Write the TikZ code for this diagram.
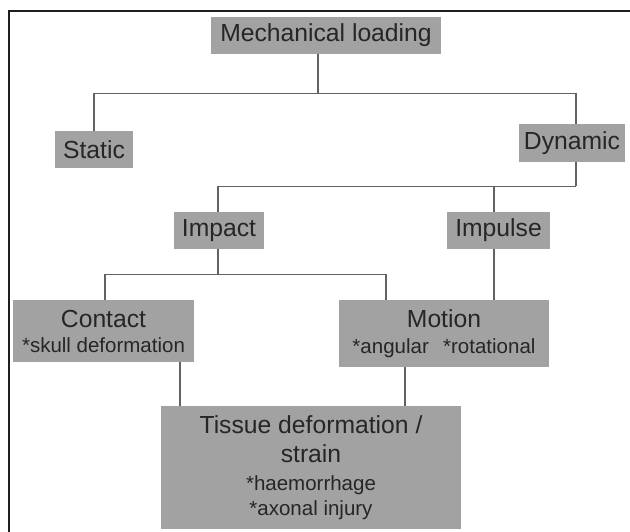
\documentclass[tikz,border=0pt]{standalone}
\usepackage{fontspec}
\setmainfont{Liberation Sans}
\usetikzlibrary{positioning, calc}
\definecolor{boxgrey}{HTML}{A2A2A2}
\definecolor{inkgrey}{HTML}{262626}
\definecolor{linkgrey}{HTML}{626262}
\definecolor{framegrey}{HTML}{1E1E1E}
\newcommand{\maintxt}{\fontsize{24.7}{27}\selectfont}
\newcommand{\subtxt}{\fontsize{20.5}{25}\selectfont}
\tikzset{
  box/.style={rectangle, fill=boxgrey, text=inkgrey, inner sep=0pt,
              align=center, font=\maintxt},
  link/.style={draw=linkgrey, line width=1.1pt},
  frameline/.style={draw=framegrey, line width=1.6pt},
}
\begin{document}
\begin{tikzpicture}[x=1pt, y=1pt]
    \useasboundingbox (0,0) rectangle (630,532);
    \draw[frameline] (9,0) |- (630,521);
    % level 1 and 2
    \node[box, minimum width=230pt, minimum height=37pt] (mech) at (326,496.5) {Mechanical loading};
    \node[box, minimum width=78pt, minimum height=37pt] (static) at (94,382.5) {Static};
    \node[box, minimum width=106pt, minimum height=38pt] (dyn) at (572,389) {Dynamic};
    % level 3
    \node[box, minimum width=90pt, minimum height=37pt] (impact) at (219,301.5) {Impact};
    \node[box, minimum width=103pt, minimum height=37pt] (impulse) at (498.5,301.5) {Impulse};
    % level 4
    \node[box, minimum width=181pt, minimum height=62pt] (contact) at (103.5,201)
        {Contact\\[-2pt] {\subtxt *skull deformation}};
    \node[box, minimum width=210pt, minimum height=67pt] (motion) at (444,198.5)
        {Motion\\[-1pt] {\subtxt *angular\hspace{0.7em}*rotational}};
    % outcome
    \node[box, minimum width=300pt, minimum height=123pt] (tissue) at (311,64.5)
        {Tissue deformation /\\[2pt] strain\\[1pt] {\subtxt *haemorrhage}\\[-2pt] {\subtxt *axonal injury}};
    \draw[link] ([xshift=-8pt]mech.south) -- ++(0,-39) coordinate (bar1);
    \draw[link] (static.north) |- (bar1) -| ([xshift=4pt]dyn.north);
    \draw[link] ([xshift=4pt]dyn.south) -- ++(0,-24) coordinate (bar2);
    \draw[link] ([xshift=-1pt]impact.north) |- (bar2);
    \draw[link] ([xshift=-4.5pt]impulse.north) -- ([xshift=-4.5pt]impulse.north |- bar2);
    \draw[link] ([xshift=-1pt]impact.south) -- ++(0,-25) coordinate (bar3);
    \draw[link] ([xshift=1.5pt]contact.north) |- (bar3) -| ([xshift=-58pt]motion.north);
    \draw[link] ([xshift=-4.5pt]impulse.south) -- ([xshift=-4.5pt]impulse.south |- motion.north);
    \draw[link] ([xshift=76.5pt]contact.south) -- ([xshift=76.5pt]contact.south |- tissue.north);
    \draw[link] ([xshift=-39pt]motion.south) -- ([xshift=-39pt]motion.south |- tissue.north);
\end{tikzpicture}
\end{document}
